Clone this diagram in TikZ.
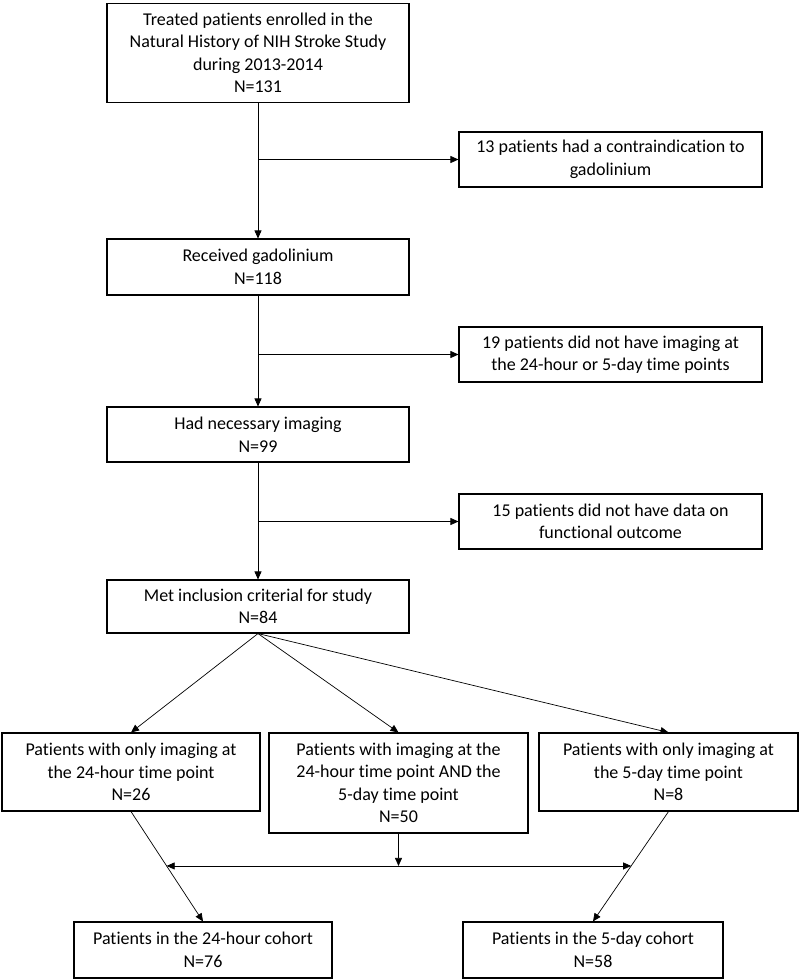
\documentclass[tikz,border=0pt]{standalone}
\usepackage{fontspec}
\setmainfont{Carlito}[Ligatures={NoCommon}]
\usetikzlibrary{arrows.meta,calc}
\begin{document}
\begin{tikzpicture}[x=1pt,y=-1pt,
  box/.style={draw=black,line width=1.1pt,align=center,inner sep=0pt,
    font=\fontsize{18}{22.5}\selectfont},
  conn/.style={draw=black,line width=0.7pt,-{Triangle[length=8pt,width=7pt]}},
  plainline/.style={draw=black,line width=0.7pt}]
\useasboundingbox[fill=white] (0,0) rectangle (800,980);
\node[box,minimum width=302pt,minimum height=99pt] (b1) at (258,53)
  {Treated patients enrolled in the\\Natural History of NIH Stroke Study\\during 2013-2014\\N=131};
\node[box,minimum width=303pt,minimum height=55pt] (b13) at (610.5,159.5)
  {13 patients had a contraindication to\\gadolinium};
\node[box,minimum width=302pt,minimum height=56pt] (b2) at (258,267)
  {Received gadolinium\\N=118};
\node[box,minimum width=303pt,minimum height=55pt] (b19) at (610.5,354.5)
  {19 patients did not have imaging at\\the 24-hour or 5-day time points};
\node[box,minimum width=302pt,minimum height=55pt] (b3) at (258,434.5)
  {Had necessary imaging\\N=99};
\node[box,minimum width=303pt,minimum height=55pt] (b15) at (610.5,521.5)
  {15 patients did not have data on\\functional outcome};
\node[box,minimum width=302pt,minimum height=53pt] (b4) at (258,606.5)
  {Met inclusion criterial for study\\N=84};
\node[box,minimum width=258pt,minimum height=78pt] (l) at (131,772)
  {Patients with only imaging at\\the 24-hour time point\\N=26};
\node[box,minimum width=259pt,minimum height=100pt] (m) at (398.5,783)
  {Patients with imaging at the\\24-hour time point AND the\\5-day time point\\N=50};
\node[box,minimum width=259pt,minimum height=78pt] (r) at (668.5,772)
  {Patients with only imaging at\\the 5-day time point\\N=8};
\node[box,minimum width=258pt,minimum height=56pt] (bl) at (203,950)
  {Patients in the 24-hour cohort\\N=76};
\node[box,minimum width=260pt,minimum height=56pt] (br) at (593,950)
  {Patients in the 5-day cohort\\N=58};
% main column
\draw[conn] (b1.south) -- (b2.north);
\draw[conn] (b1.south |- b13.west) -- (b13.west);
\draw[conn] (b2.south) -- (b3.north);
\draw[conn] (b2.south |- b19.west) -- (b19.west);
\draw[conn] (b3.south) -- (b4.north);
\draw[conn] (b3.south |- b15.west) -- (b15.west);
% split
\draw[conn] (b4.south) -- (l.north);
\draw[conn] (b4.south) -- (m.north);
\draw[conn] (b4.south) -- (r.north);
% cohorts
\draw[conn] (l.south) -- (bl.north);
\draw[conn] (r.south) -- (br.north);
\coordinate (ml) at ($(l.south)!0.495!(bl.north)$);
\coordinate (mr) at ($(r.south)!0.495!(br.north)$);
\draw[conn] (m.south) -- (m.south |- ml);
\draw[draw=black,line width=0.7pt,{Triangle[length=8pt,width=7pt]}-{Triangle[length=8pt,width=7pt]}] (ml) -- (mr);
\end{tikzpicture}
\end{document}
